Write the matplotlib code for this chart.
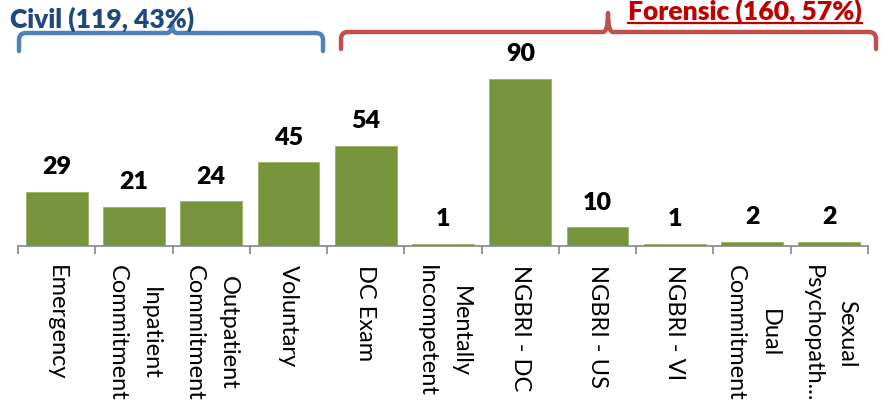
import matplotlib
matplotlib.use("Agg")
import matplotlib.pyplot as plt
from matplotlib.path import Path
from matplotlib.patches import PathPatch
from matplotlib.lines import Line2D

categories = ["Emergency", "Inpatient\nCommitment", "Outpatient\nCommitment", "Voluntary",
              "DC Exam", "Mentally\nIncompetent", "NGBRI - DC", "NGBRI - US", "NGBRI - VI",
              "Dual\nCommitment", "Sexual\nPsychopath..."]
values = [29, 21, 24, 45, 54, 1, 90, 10, 1, 2, 2]
civil_label = "Civil (119, 43%)"
forensic_label = "Forensic (160, 57%)"

W, H = 886, 408
fig = plt.figure(figsize=(W / 100, H / 100), dpi=100)
plt.rcParams['font.family'] = ['Lato', 'DejaVu Sans']

left, right, base, top = 18, 868, 246, 60.4
ax = fig.add_axes([left / W, 1 - base / H, (right - left) / W, (base - top) / H])
x = list(range(len(categories)))
ax.bar(x, values, width=0.8, color='#77933C', edgecolor='#9BB35F', linewidth=0.6)
ax.set_xlim(-0.5, len(categories) - 0.5)
ax.set_ylim(0, 100)
for s in ['top', 'right', 'left']:
    ax.spines[s].set_visible(False)
ax.spines['bottom'].set_color('#868686')
ax.spines['bottom'].set_linewidth(1.2)
ax.set_yticks([])
ax.set_xticks(x)
ax.set_xticklabels(categories, rotation=-90, fontsize=17, ha='center', va='top',
                   multialignment='center', linespacing=1.75)
ax.set_xticks([i - 0.5 for i in range(len(categories) + 1)], minor=True)
ax.tick_params(axis='x', which='major', length=0, pad=14)
ax.tick_params(axis='x', which='minor', length=6, color='#868686', width=1.2, direction='out')

for xi, v in zip(x, values):
    ax.annotate(str(v), (xi, v), xytext=(0, 10), textcoords='offset points',
                ha='center', va='bottom', fontsize=18, fontweight='heavy', color='black')


def fx(px):
    return px / W


def fy(py):
    return 1 - py / H


def brace(x0, x1, xm, yline, ybot, ytop, color):
    r = 7
    verts = [(x0, ybot), (x0, yline + r), (x0, yline), (x0 + r, yline),
             (xm - 5, yline), (xm, yline), (xm, ytop),
             (xm, yline), (xm + 5, yline),
             (x1 - r, yline), (x1, yline), (x1, yline + r), (x1, ybot)]
    codes = [Path.MOVETO, Path.LINETO, Path.CURVE3, Path.CURVE3,
             Path.LINETO, Path.CURVE3, Path.CURVE3,
             Path.CURVE3, Path.CURVE3,
             Path.LINETO, Path.CURVE3, Path.CURVE3, Path.LINETO]
    verts = [(fx(a), fy(b)) for a, b in verts]
    p = PathPatch(Path(verts, codes), fill=False, edgecolor=color, linewidth=3.2,
                  transform=fig.transFigure, capstyle='round', joinstyle='round')
    fig.add_artist(p)


brace(19, 323, 172, 33, 51, 23, '#4F81BD')
brace(341, 876, 608, 32, 49, 13, '#C0504D')

fig.text(fx(10), fy(28), civil_label, fontsize=19, fontweight='heavy', color='#1F497D',
         ha='left', va='baseline')
t = fig.text(fx(862), fy(20), forensic_label, fontsize=19.1, fontweight='heavy', color='#C00000',
             ha='right', va='baseline')
fig.canvas.draw()
bb = t.get_window_extent()
fig.add_artist(Line2D([bb.x0 / W, bb.x1 / W], [fy(23), fy(23)], color='#C00000',
                      linewidth=1.6, transform=fig.transFigure))

fig.savefig("out.png", dpi=100)
